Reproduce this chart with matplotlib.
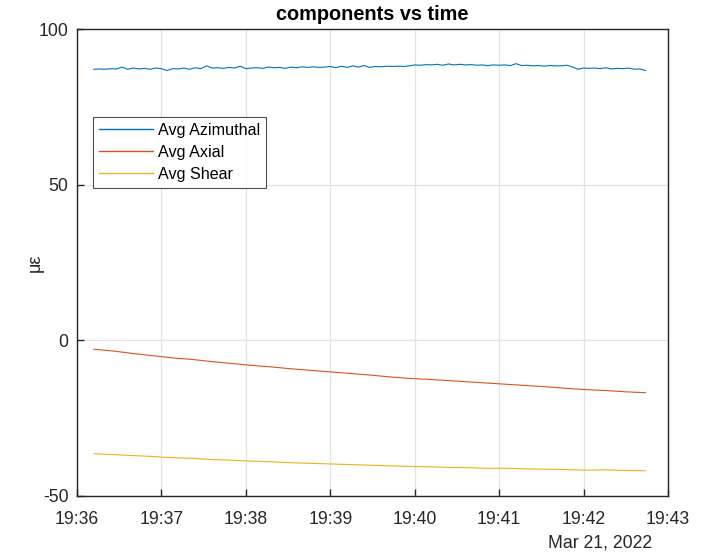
import numpy as np
import pandas as pd
import matplotlib
matplotlib.use("Agg")
import matplotlib.pyplot as plt
import matplotlib.dates as mdates

plt.rcParams["font.family"] = ["Liberation Sans", "DejaVu Sans"]
plt.rcParams["axes.unicode_minus"] = False

start = pd.Timestamp("2022-03-21 19:36:00")

# azimuthal samples every 4 s, from 19:36:12
azimuthal = [
    87.2, 87.3, 87.2, 87.4, 87.3, 87.9, 87.2, 87.6, 87.3, 87.5,
    87.2, 87.6, 87.4, 86.8, 87.4, 87.3, 87.6, 87.2, 87.7, 87.4,
    88.3, 87.6, 87.7, 87.5, 87.8, 87.6, 88.2, 87.4, 87.6, 87.7,
    87.5, 87.9, 87.7, 87.8, 87.5, 87.9, 87.7, 88.0, 87.8, 88.0,
    87.8, 87.9, 88.1, 87.7, 88.2, 87.8, 88.3, 87.9, 88.4, 87.8,
    88.1, 88.0, 88.2, 88.1, 88.2, 88.1, 88.3, 88.6, 88.5, 88.7,
    88.6, 88.8, 88.5, 88.9, 88.6, 88.8, 88.6, 88.7, 88.5, 88.6,
    88.4, 88.6, 88.5, 88.6, 88.4, 89.0, 88.4, 88.5, 88.3, 88.4,
    88.2, 88.4, 88.3, 88.3, 88.5, 88.0, 87.2, 87.6, 87.5, 87.6,
    87.4, 87.7, 87.3, 87.5, 87.4, 87.6, 87.2, 87.3, 86.8,
]
t_az = start + pd.to_timedelta(12 + 4 * np.arange(len(azimuthal)), unit="s")

# axial and shear samples every 14 s, from 19:36:12
axial = [
    -2.8, -3.4, -4.2, -4.9, -5.6, -6.1, -6.8, -7.4, -8.0, -8.5,
    -9.1, -9.6, -10.1, -10.6, -11.1, -11.7, -12.2, -12.5, -12.9, -13.3,
    -13.7, -14.1, -14.5, -14.9, -15.4, -15.8, -16.1, -16.5, -16.8,
]
shear = [
    -36.4, -36.7, -37.0, -37.3, -37.7, -37.9, -38.3, -38.5, -38.8, -39.0,
    -39.3, -39.5, -39.7, -39.9, -40.1, -40.3, -40.5, -40.6, -40.8, -40.9,
    -41.1, -41.1, -41.3, -41.4, -41.5, -41.7, -41.6, -41.8, -41.9,
]
t_slow = start + pd.to_timedelta(12 + 14 * np.arange(len(axial)), unit="s")

labels = ["Avg Azimuthal", "Avg Axial", "Avg Shear"]
colors = ["#0072BD", "#D95319", "#EDB120"]

fig = plt.figure(figsize=(7.03, 5.53), dpi=100)
ax = fig.add_axes([0.1095, 0.1031, 0.8407, 0.8436])

ax.plot(t_az, azimuthal, color=colors[0], lw=0.8, label=labels[0])
ax.plot(t_slow, axial, color=colors[1], lw=0.8, label=labels[1])
ax.plot(t_slow, shear, color=colors[2], lw=0.8, label=labels[2])

ax.set_xlim(start, start + pd.Timedelta(minutes=7))
ax.set_ylim(-50, 100)
ax.set_yticks([-50, 0, 50, 100])
ax.xaxis.set_major_locator(mdates.MinuteLocator())
ax.xaxis.set_major_formatter(mdates.DateFormatter("%H:%M"))

ax.grid(True, color="#e3e3e3", lw=0.9)
ax.set_axisbelow(True)
for s in ax.spines.values():
    s.set_color("#262626")
    s.set_linewidth(1.0)
ax.tick_params(direction="in", length=5, width=1.0, colors="#262626",
               labelsize=12.7, pad=6)
ax.tick_params(axis="x", pad=10.5)

ax.set_title("components vs time", fontsize=14.3, fontweight="bold", pad=7)
ax.set_ylabel("με", fontsize=13, color="#262626")
ax.yaxis.set_label_coords(-0.056, 0.5)
fig.text(0.927, 0.003, "Mar 21, 2022", ha="right", va="bottom",
         fontsize=12.7, color="#262626")

leg = ax.legend(loc="upper left", bbox_to_anchor=(0.027, 0.8124), fontsize=11.6,
                frameon=True, fancybox=False, handlelength=3.4,
                handletextpad=0.3, borderpad=0.35, labelspacing=0.45,
                borderaxespad=0)
leg.get_frame().set_edgecolor("#262626")
leg.get_frame().set_linewidth(0.8)
for h in leg.get_lines():
    h.set_linewidth(1.0)

fig.savefig("out.png", dpi=100)
